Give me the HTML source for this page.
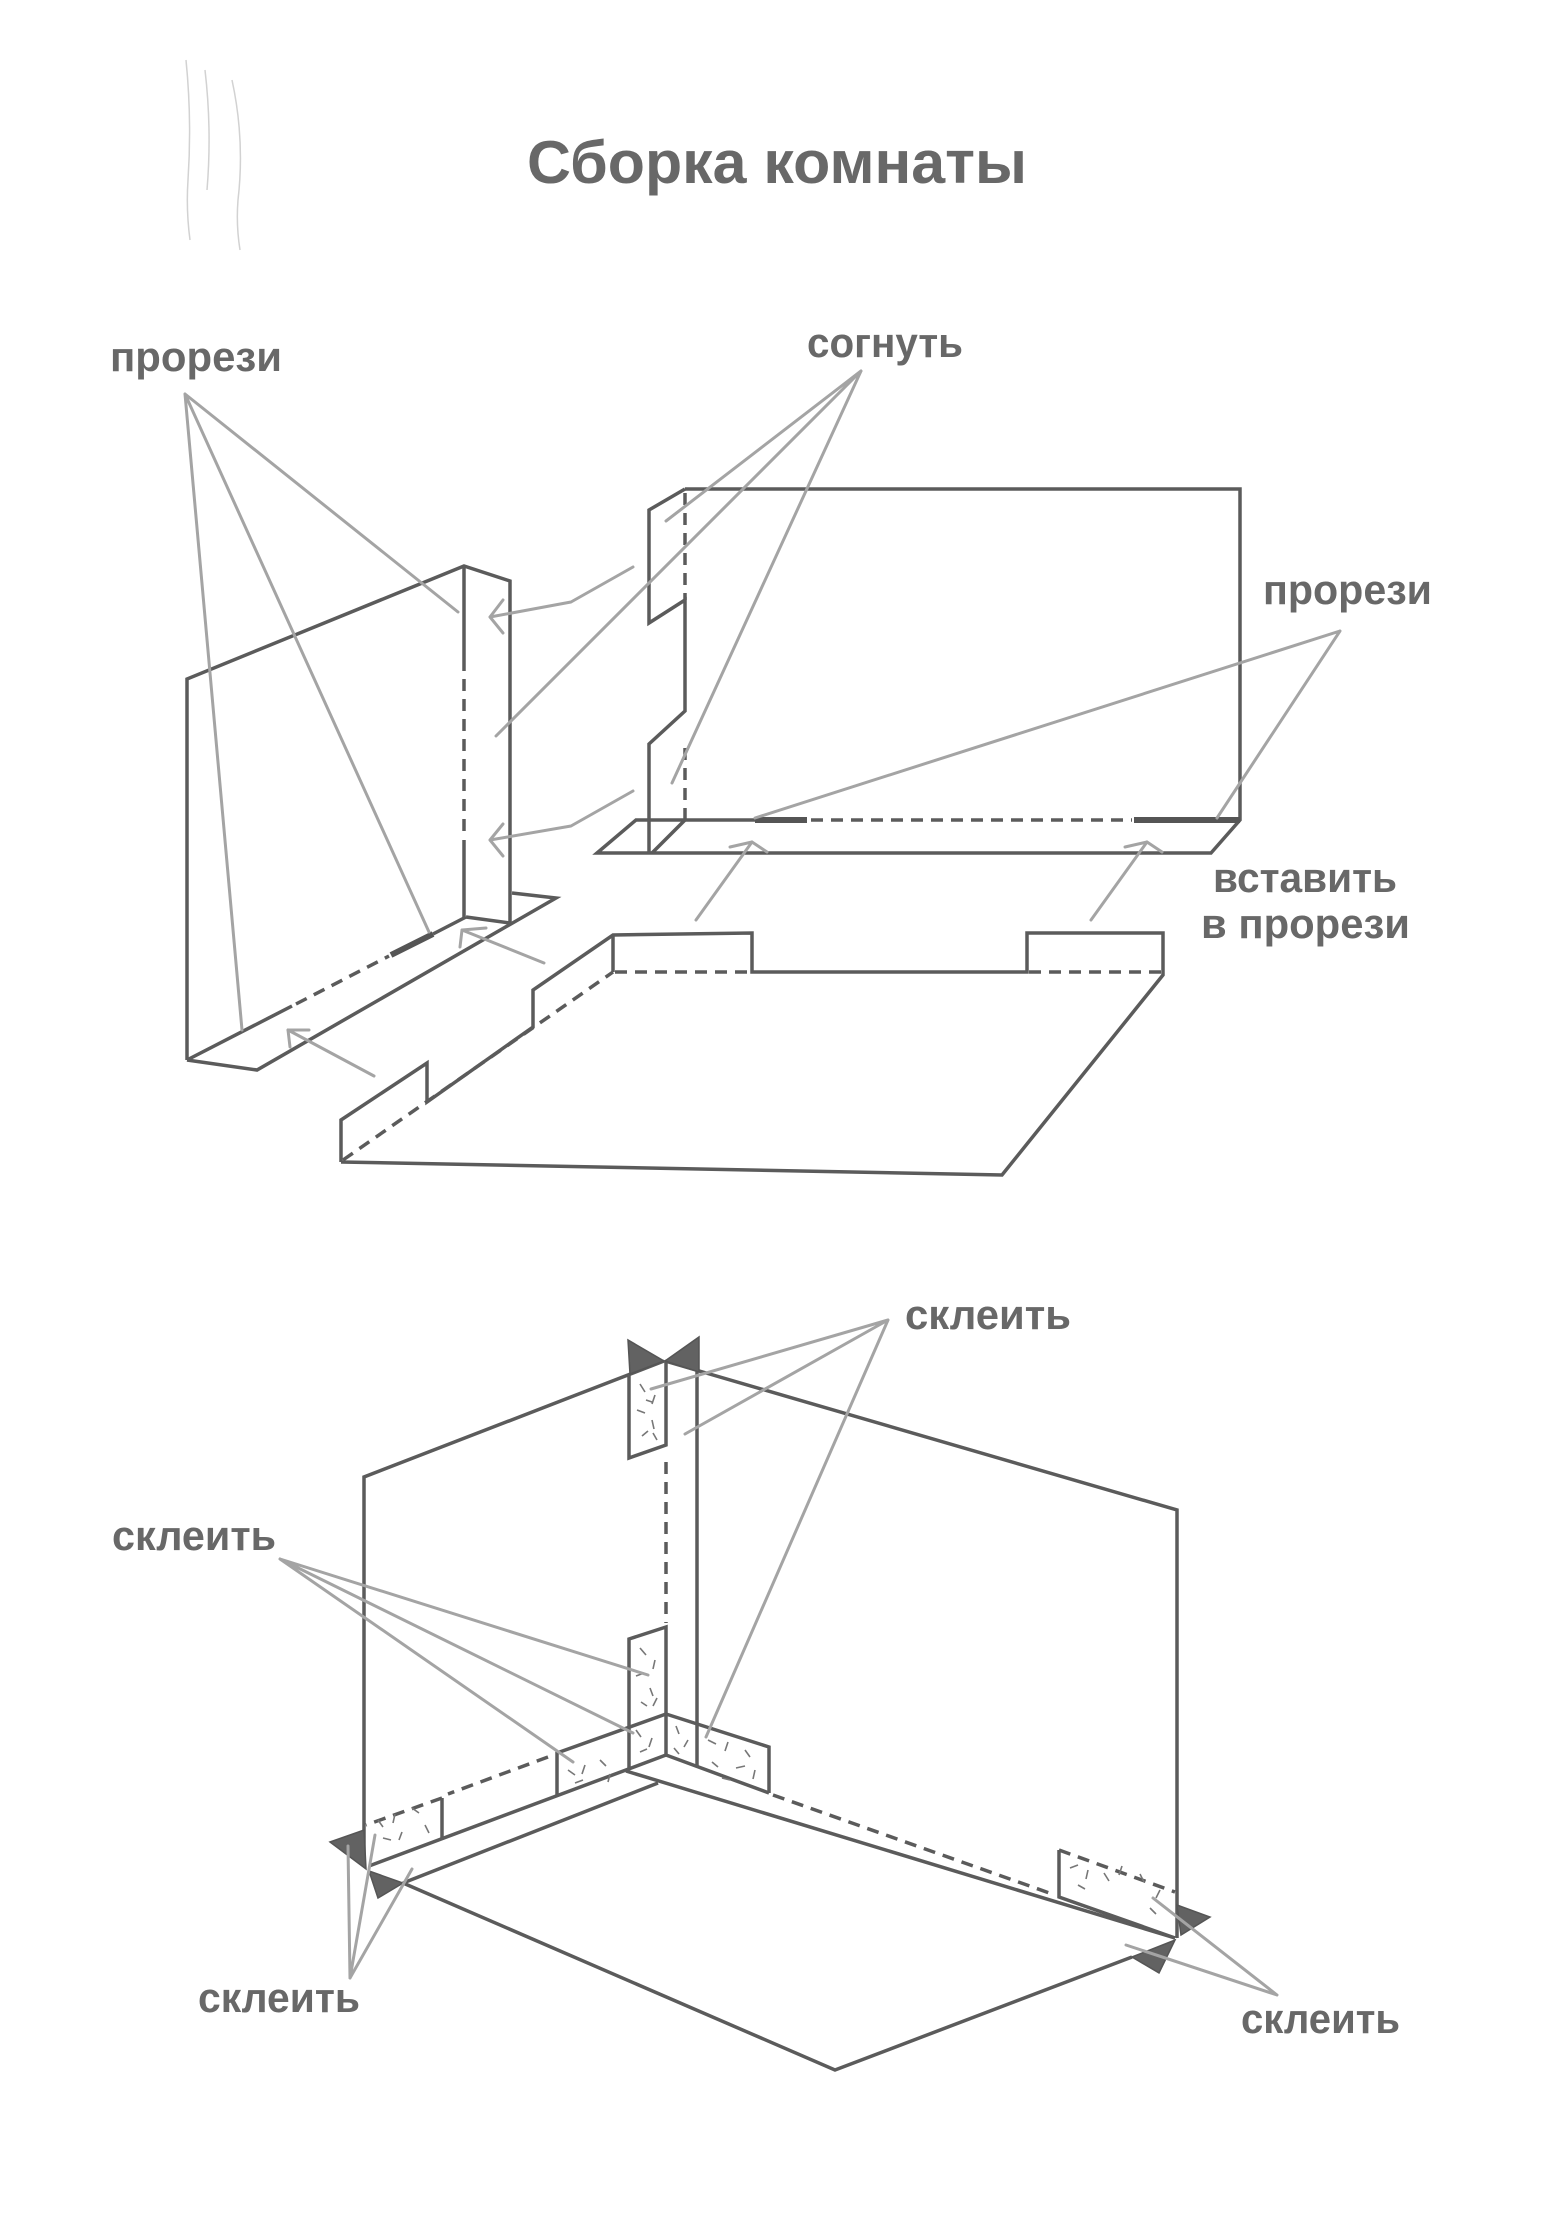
<!DOCTYPE html>
<html>
<head>
<meta charset="utf-8">
<style>
html,body{margin:0;padding:0;background:#fff;}
body{width:1544px;height:2214px;overflow:hidden;}
svg{display:block;}
.t{font-family:"Liberation Sans","DejaVu Sans",sans-serif;font-weight:bold;fill:#686868;}
.d{stroke:#5b5b5b;stroke-width:3.5;fill:none;stroke-linejoin:miter;}
.dash{stroke:#5b5b5b;stroke-width:3.5;fill:none;stroke-dasharray:12 8;}
.thick{stroke:#555;stroke-width:6;fill:none;}
.l{stroke:#a4a4a4;stroke-width:3;fill:none;stroke-linecap:round;stroke-linejoin:round;}
.tri{fill:#626262;stroke:#555;stroke-width:1.5;}
.g{stroke:#777;stroke-width:1.6;fill:none;}
.p{stroke:#d2d2d2;stroke-width:1.5;fill:none;}
</style>
</head>
<body>
<svg width="1544" height="2214" viewBox="0 0 1544 2214" xmlns="http://www.w3.org/2000/svg">
<rect width="1544" height="2214" fill="#fff"/>

<!-- faint pencil marks -->
<path class="p" d="M186,60 Q192,120 188,180 Q186,210 190,240"/>
<path class="p" d="M205,70 Q212,130 207,190"/>
<path class="p" d="M232,80 Q245,140 238,200 Q236,225 240,250"/>

<!-- Title -->
<text class="t" x="527" y="183" font-size="60" textLength="500" lengthAdjust="spacingAndGlyphs">Сборка комнаты</text>

<!-- ============ TOP DIAGRAM ============ -->
<!-- labels -->
<text class="t" x="110" y="371" font-size="42" textLength="172" lengthAdjust="spacingAndGlyphs">прорези</text>
<text class="t" x="807" y="357" font-size="42" textLength="156" lengthAdjust="spacingAndGlyphs">согнуть</text>
<text class="t" x="1263" y="604" font-size="42" textLength="169" lengthAdjust="spacingAndGlyphs">прорези</text>
<text class="t" x="1213" y="892" font-size="42" textLength="184" lengthAdjust="spacingAndGlyphs">вставить</text>
<text class="t" x="1201" y="938" font-size="42" textLength="209" lengthAdjust="spacingAndGlyphs">в прорези</text>

<!-- left panel -->
<path class="d" d="M187,1060 L187,679 L464,566 L510,581 L510,923"/>
<path class="d" d="M187,1060 L257,1070 L556,898 L512,893"/>
<path class="d" d="M466,917 L510,923"/>
<path class="d" d="M464,566 L464,671"/>
<path class="dash" d="M464,679 L464,836"/>
<path class="d" d="M464,840 L464,917"/>
<path class="d" d="M187,1060 L292,1006"/>
<path class="dash" d="M296,1004 L389,956"/>
<path class="thick" d="M391,955 L433,934"/>
<path class="d" d="M433,934 L466,917"/>

<!-- back wall -->
<path class="d" d="M685,489 L1240,489 L1240,820 L1211,853 L597,853 L636,820 L649,820"/>
<path class="d" d="M649,853 L649,744 L685,711 L685,600 L649,623 L649,510 L685,489"/>
<path class="dash" d="M685,493 L685,600"/>
<path class="dash" d="M685,748 L685,820"/>
<path class="d" d="M685,820 L652,853"/>
<path class="d" d="M649,820 L755,820"/>
<path class="thick" d="M755,820 L807,820"/>
<path class="dash" d="M811,820 L1132,820"/>
<path class="thick" d="M1134,820 L1240,820"/>

<!-- floor piece -->
<path class="d" d="M341,1162 L341,1120 L427,1063 L427,1102 L533,1027 L533,990 L613,935 L752,933 L752,972 L1027,972 L1027,933 L1163,933 L1163,975 L1002,1175 L341,1162"/>
<path class="dash" d="M343,1160 L613,972"/>
<path class="dash" d="M615,972 L750,972"/>
<path class="dash" d="M1029,972 L1161,972"/>
<path class="d" d="M613,935 L613,972"/>

<!-- leaders top -->
<path class="l" d="M185,394 L458,612 M185,394 L429,932 M185,394 L242,1030"/>
<path class="l" d="M861,371 L666,521 M861,371 L496,736 M861,371 L672,783"/>
<path class="l" d="M1340,631 L755,818 M1340,631 L1217,818"/>

<!-- arrows top -->
<path class="l" d="M633,567 L571,602 L490,617"/>
<path class="l" d="M503,600 L490,617 L503,633"/>
<path class="l" d="M633,791 L571,826 L490,840"/>
<path class="l" d="M503,824 L490,840 L503,856"/>
<path class="l" d="M544,963 L462,930"/>
<path class="l" d="M486,928 L462,930 L460,947"/>
<path class="l" d="M374,1076 L288,1030"/>
<path class="l" d="M309,1030 L288,1030 L290,1047"/>
<path class="l" d="M696,920 L752,842"/>
<path class="l" d="M730,847 L752,842 L767,852"/>
<path class="l" d="M1091,920 L1147,842"/>
<path class="l" d="M1125,847 L1147,842 L1162,852"/>

<!-- ============ BOTTOM DIAGRAM ============ -->
<text class="t" x="905" y="1329" font-size="42" textLength="166" lengthAdjust="spacingAndGlyphs">склеить</text>
<text class="t" x="112" y="1550" font-size="42" textLength="164" lengthAdjust="spacingAndGlyphs">склеить</text>
<text class="t" x="198" y="2012" font-size="42" textLength="162" lengthAdjust="spacingAndGlyphs">склеить</text>
<text class="t" x="1241" y="2033" font-size="42" textLength="159" lengthAdjust="spacingAndGlyphs">склеить</text>

<!-- walls -->
<path class="d" d="M364,1867 L364,1477 L664,1361"/>
<path class="d" d="M665,1361 L1177,1510 L1177,1938"/>
<path class="d" d="M697,1366 L697,1766"/>
<path class="d" d="M629,1374 L629,1458 L666,1445 L666,1360"/>
<path class="dash" d="M666,1462 L666,1623"/>
<path class="d" d="M629,1770 L629,1639 L666,1627 L666,1755"/>

<!-- left flap -->
<path class="d" d="M666,1714 L557,1753 L557,1795"/>
<path class="dash" d="M548,1757 L448,1794"/>
<path class="dash" d="M442,1798 L366,1825"/>
<path class="d" d="M442,1798 L442,1839"/>
<path class="d" d="M369,1866 L666,1755"/>

<!-- right flap -->
<path class="d" d="M666,1714 L769,1747 L769,1793"/>
<path class="d" d="M666,1755 L769,1793"/>
<path class="dash" d="M773,1795 L1055,1895"/>
<path class="d" d="M1059,1850 L1059,1897 L1175,1938"/>
<path class="dash" d="M1059,1850 L1175,1892"/>

<!-- floor -->
<path class="d" d="M626,1771 L1175,1938"/>
<path class="d" d="M403,1883 L658,1783"/>
<path class="d" d="M403,1883 L835,2070 L1132,1957"/>

<!-- glue texture -->
<g class="g">
<path d="M640,1384 l5,8 M655,1395 l-3,9 M637,1410 l8,3 M652,1420 l2,9 M642,1436 l6,-5 M657,1440 l-4,-7 M646,1400 l6,2"/>
<path d="M640,1648 l6,7 M655,1660 l-2,9 M636,1676 l8,-3 M650,1688 l3,8 M641,1702 l6,4 M657,1698 l-4,8"/>
<path d="M636,1730 l5,7 M652,1738 l-3,9 M640,1752 l7,-3 M676,1726 l3,8 M688,1740 l-4,7 M674,1748 l5,6"/>
<path d="M708,1740 l8,4 M728,1742 l-3,9 M745,1750 l5,7 M712,1762 l6,5 M736,1768 l9,-2 M755,1770 l-2,9 M722,1778 l8,2"/>
<path d="M568,1770 l7,5 M585,1765 l-3,9 M600,1760 l6,6 M575,1783 l8,-3 M610,1774 l-2,8"/>
<path d="M378,1820 l5,7 M395,1814 l-2,9 M412,1808 l7,5 M383,1838 l8,2 M402,1832 l-3,8 M425,1825 l4,8"/>
<path d="M1070,1868 l8,-3 M1088,1870 l-2,9 M1104,1873 l5,8 M1122,1866 l-3,9 M1140,1874 l4,8 M1078,1885 l7,4 M1160,1890 l-4,8 M1150,1908 l6,6"/>
</g>

<!-- triangles -->
<polygon class="tri" points="628,1340 630,1374 664,1361"/>
<polygon class="tri" points="699,1337 699,1372 665,1361"/>
<polygon class="tri" points="330,1842 364,1830 366,1869"/>
<polygon class="tri" points="369,1871 403,1883 378,1898"/>
<polygon class="tri" points="1177,1905 1210,1917 1181,1935"/>
<polygon class="tri" points="1132,1957 1175,1940 1159,1973"/>

<!-- leaders bottom -->
<path class="l" d="M888,1320 L651,1389 M888,1320 L685,1434 M888,1320 L706,1737"/>
<path class="l" d="M280,1559 L648,1675 M280,1559 L633,1733 M280,1559 L573,1762"/>
<path class="l" d="M350,1978 L348,1846 M350,1978 L375,1835 M350,1978 L412,1869"/>
<path class="l" d="M1277,1995 L1153,1898 M1277,1995 L1126,1945"/>
</svg>
</body>
</html>
